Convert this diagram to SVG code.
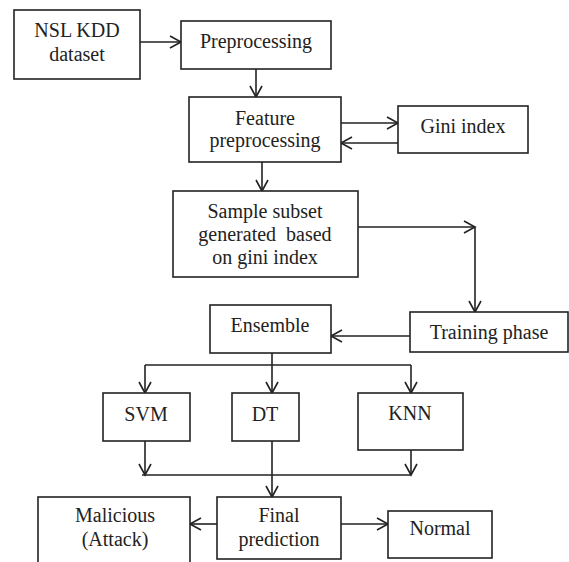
<svg xmlns="http://www.w3.org/2000/svg" width="569" height="562" viewBox="0 0 569 562" font-family="Liberation Serif, DejaVu Serif, serif">
<style>
.box{fill:#fff;stroke:#222;stroke-width:1.6}
.t{font-size:20px;fill:#222;text-anchor:middle}
.c{fill:none;stroke:#222;stroke-width:1.6}
</style>
<defs>
<marker id="ah" markerUnits="userSpaceOnUse" markerWidth="14" markerHeight="14" viewBox="-1 -1 14 14" refX="11" refY="6" orient="auto" overflow="visible">
<path d="M0,0 L11,6 L0,12" fill="none" stroke="#222" stroke-width="1.6"/>
</marker>
</defs>
<rect width="569" height="562" fill="#fff"/>
<g id="connectors">
<line class="c" x1="140" y1="42" x2="181" y2="42" marker-end="url(#ah)"/>
<line class="c" x1="256" y1="69" x2="256" y2="97" marker-end="url(#ah)"/>
<line class="c" x1="341" y1="123" x2="398" y2="123" marker-end="url(#ah)"/>
<line class="c" x1="398" y1="143" x2="341" y2="143" marker-end="url(#ah)"/>
<line class="c" x1="262" y1="162" x2="262" y2="191" marker-end="url(#ah)"/>
<line class="c" x1="358" y1="227" x2="475" y2="227" marker-end="url(#ah)"/>
<line class="c" x1="475" y1="227" x2="475" y2="312" marker-end="url(#ah)"/>
<line class="c" x1="410" y1="336" x2="331" y2="336" marker-end="url(#ah)"/>
<line class="c" x1="272" y1="353" x2="272" y2="365"/>
<line class="c" x1="145" y1="365" x2="411" y2="365"/>
<line class="c" x1="145" y1="365" x2="145" y2="393" marker-end="url(#ah)"/>
<line class="c" x1="272" y1="365" x2="272" y2="393" marker-end="url(#ah)"/>
<line class="c" x1="411" y1="365" x2="411" y2="393" marker-end="url(#ah)"/>
<line class="c" x1="145" y1="441" x2="145" y2="475" marker-end="url(#ah)"/>
<line class="c" x1="411" y1="450" x2="411" y2="475" marker-end="url(#ah)"/>
<line class="c" x1="142" y1="475" x2="411" y2="475"/>
<line class="c" x1="272" y1="441" x2="272" y2="497" marker-end="url(#ah)"/>
<line class="c" x1="217" y1="524" x2="190" y2="524" marker-end="url(#ah)"/>
<line class="c" x1="341" y1="524" x2="388" y2="524" marker-end="url(#ah)"/>
</g>
<g id="nsl">
<rect class="box" x="14" y="10" width="126" height="69"/>
<text class="t" x="77" y="37">NSL KDD</text>
<text class="t" x="77" y="61">dataset</text>
</g>
<g id="preprocessing">
<rect class="box" x="181" y="21" width="150" height="48"/>
<text class="t" x="256" y="48">Preprocessing</text>
</g>
<g id="feature">
<rect class="box" x="189" y="97" width="152" height="65"/>
<text class="t" x="265" y="125">Feature</text>
<text class="t" x="265" y="147">preprocessing</text>
</g>
<g id="gini">
<rect class="box" x="398" y="106" width="130" height="47"/>
<text class="t" x="463" y="133">Gini index</text>
</g>
<g id="sample">
<rect class="box" x="173" y="191" width="185" height="86"/>
<text class="t" x="265" y="218">Sample subset</text>
<text class="t" x="265" y="241" xml:space="preserve">generated  based</text>
<text class="t" x="265" y="264">on gini index</text>
</g>
<g id="training">
<rect class="box" x="410" y="312" width="158" height="40"/>
<text class="t" x="489" y="339">Training phase</text>
</g>
<g id="ensemble">
<rect class="box" x="210" y="305" width="121" height="48"/>
<text class="t" x="270" y="332">Ensemble</text>
</g>
<g id="svm">
<rect class="box" x="103" y="393" width="87" height="48"/>
<text class="t" x="146" y="421">SVM</text>
</g>
<g id="dt">
<rect class="box" x="232" y="393" width="67" height="48"/>
<text class="t" x="265" y="421">DT</text>
</g>
<g id="knn">
<rect class="box" x="358" y="393" width="105" height="57"/>
<text class="t" x="410" y="420">KNN</text>
</g>
<g id="malicious">
<rect class="box" x="38" y="497" width="152" height="75"/>
<text class="t" x="115" y="522">Malicious</text>
<text class="t" x="115" y="546">(Attack)</text>
</g>
<g id="final">
<rect class="box" x="217" y="497" width="124" height="62"/>
<text class="t" x="279" y="522">Final</text>
<text class="t" x="279" y="546">prediction</text>
</g>
<g id="normal">
<rect class="box" x="388" y="511" width="104" height="47"/>
<text class="t" x="440" y="535">Normal</text>
</g>
</svg>
